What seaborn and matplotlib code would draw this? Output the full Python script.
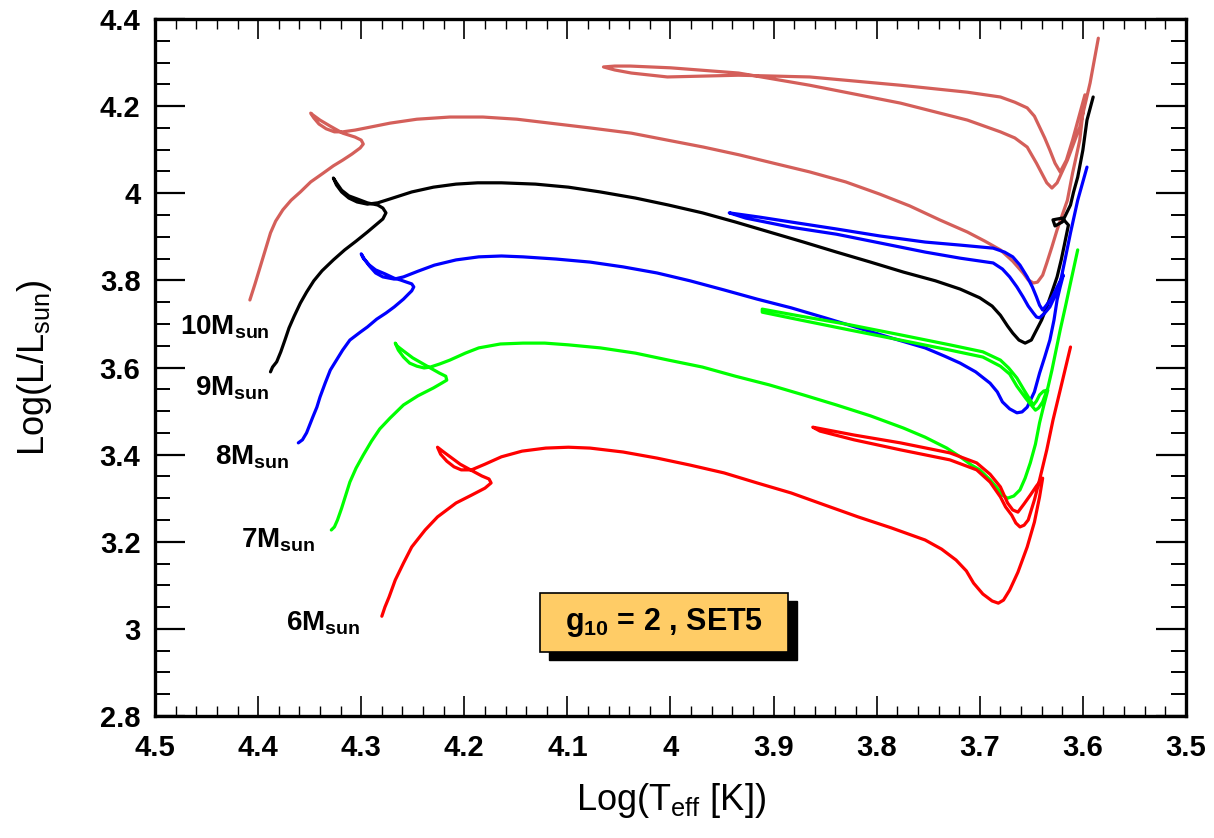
import numpy as np
import pandas as pd
import matplotlib
matplotlib.use("Agg")
import matplotlib.pyplot as plt
import seaborn as sns
from matplotlib.ticker import MultipleLocator, FuncFormatter
from matplotlib.patches import Rectangle

# ---------------- data ----------------
masses = ["10", "9", "8", "7", "6"]
track_colors = ["#d45f5a", "#000000", "#0000ff", "#00ff00", "#ff0000"]

logT_10 = [4.408, 4.403, 4.398, 4.393, 4.388, 4.383, 4.376, 4.368, 4.359, 4.349, 4.337, 4.327, 4.318, 4.309,
           4.301, 4.298, 4.300, 4.306, 4.318, 4.330, 4.340, 4.347, 4.349, 4.346, 4.341, 4.334, 4.326, 4.318,
           4.306, 4.291, 4.272, 4.246, 4.214, 4.182, 4.149, 4.117, 4.078, 4.038, 4.003, 3.968, 3.933, 3.900,
           3.865, 3.830, 3.797, 3.768, 3.739, 3.712, 3.695, 3.680, 3.668, 3.658, 3.653, 3.648, 3.644, 3.639,
           3.635, 3.630, 3.625, 3.620, 3.615, 3.610, 3.603, 3.598,
           3.610, 3.616, 3.622, 3.627, 3.632, 3.637, 3.642, 3.647, 3.654, 3.666, 3.680, 3.712, 3.777, 3.865,
           3.934, 3.968, 4.003, 4.038, 4.054, 4.065,
           4.054, 4.039, 4.000, 3.934, 3.865, 3.777, 3.712, 3.680, 3.666, 3.654, 3.645, 3.635, 3.630,
           3.625, 3.615, 3.603, 3.593, 3.585]
logL_10 = [3.755, 3.792, 3.831, 3.870, 3.909, 3.936, 3.962, 3.984, 4.003, 4.026, 4.046, 4.063, 4.076, 4.090,
           4.104, 4.113, 4.122, 4.129, 4.138, 4.154, 4.168, 4.180, 4.184, 4.173, 4.159, 4.148, 4.141, 4.141,
           4.145, 4.152, 4.161, 4.170, 4.175, 4.175, 4.170, 4.161, 4.150, 4.138, 4.122, 4.106, 4.088, 4.069,
           4.049, 4.026, 3.998, 3.971, 3.939, 3.911, 3.890, 3.870, 3.844, 3.817, 3.801, 3.794, 3.796, 3.812,
           3.840, 3.877, 3.916, 3.950, 3.984, 4.046, 4.122, 4.226,
           4.122, 4.076, 4.049, 4.069, 4.099, 4.127, 4.152, 4.177, 4.196, 4.209, 4.221, 4.232, 4.248, 4.267,
           4.271, 4.269, 4.267, 4.276, 4.283, 4.290,
           4.292, 4.292, 4.288, 4.276, 4.248, 4.207, 4.168, 4.141, 4.127, 4.106, 4.069, 4.024, 4.012,
           4.024, 4.076, 4.152, 4.253, 4.356]

logT_9 = [4.388, 4.386, 4.382, 4.378, 4.374, 4.370, 4.365, 4.359, 4.353, 4.346, 4.338, 4.327, 4.316, 4.305,
          4.294, 4.286, 4.279, 4.276, 4.279, 4.284, 4.294, 4.304, 4.312, 4.319, 4.324, 4.327, 4.324, 4.319,
          4.312, 4.304, 4.294, 4.284, 4.272, 4.251, 4.230, 4.208, 4.187, 4.164, 4.131, 4.099, 4.068, 4.034,
          4.002, 3.969, 3.937, 3.904, 3.871, 3.839, 3.806, 3.774, 3.743, 3.719, 3.700, 3.688, 3.680, 3.673,
          3.668, 3.662, 3.656, 3.650, 3.645, 3.640, 3.635, 3.630, 3.625, 3.621, 3.618, 3.614, 3.620, 3.629,
          3.627, 3.620, 3.612, 3.609, 3.605, 3.600, 3.596, 3.590]
logL_9 = [3.590, 3.601, 3.613, 3.636, 3.663, 3.691, 3.718, 3.748, 3.773, 3.799, 3.822, 3.847, 3.870, 3.890,
          3.911, 3.927, 3.941, 3.955, 3.966, 3.973, 3.978, 3.987, 3.994, 4.007, 4.024, 4.035, 4.019, 4.003,
          3.989, 3.980, 3.975, 3.978, 3.987, 4.003, 4.014, 4.021, 4.024, 4.024, 4.021, 4.014, 4.003, 3.989,
          3.973, 3.955, 3.934, 3.911, 3.888, 3.865, 3.842, 3.819, 3.799, 3.780, 3.760, 3.741, 3.720, 3.695,
          3.679, 3.663, 3.656, 3.663, 3.686, 3.709, 3.739, 3.773, 3.808, 3.847, 3.881, 3.927, 3.943, 3.939,
          3.925, 3.934, 3.973, 4.003, 4.037, 4.099, 4.168, 4.221]

logT_8 = [4.361, 4.357, 4.353, 4.350, 4.347, 4.343, 4.340, 4.335, 4.330, 4.324, 4.318, 4.311, 4.301, 4.294,
          4.285, 4.276, 4.268, 4.259, 4.254, 4.251, 4.249, 4.251, 4.256, 4.262, 4.268, 4.277, 4.286, 4.292,
          4.298, 4.300, 4.297, 4.292, 4.286, 4.279, 4.268, 4.259, 4.245, 4.229, 4.208, 4.186, 4.164, 4.143,
          4.111, 4.078, 4.046, 4.013, 3.981, 3.948, 3.916, 3.883, 3.850, 3.818, 3.786, 3.753, 3.734, 3.719,
          3.704, 3.690, 3.683, 3.678, 3.671, 3.664, 3.659, 3.654, 3.647, 3.642, 3.637, 3.632, 3.628, 3.625,
          3.622, 3.619, 3.624, 3.630, 3.636, 3.639,
          3.642, 3.645, 3.649, 3.654, 3.661, 3.668, 3.676, 3.687, 3.719, 3.753, 3.797, 3.839, 3.883, 3.913,
          3.943,
          3.927, 3.883, 3.839, 3.797, 3.753, 3.719, 3.687, 3.678, 3.671, 3.664, 3.658, 3.653, 3.648, 3.645,
          3.642, 3.637, 3.632, 3.627, 3.622, 3.617, 3.612, 3.605, 3.596]
logL_8 = [3.427, 3.434, 3.450, 3.468, 3.486, 3.509, 3.532, 3.564, 3.594, 3.617, 3.640, 3.663, 3.681, 3.693,
          3.711, 3.725, 3.739, 3.757, 3.769, 3.776, 3.785, 3.792, 3.796, 3.801, 3.805, 3.815, 3.824, 3.835,
          3.851, 3.861, 3.849, 3.833, 3.817, 3.808, 3.803, 3.808, 3.821, 3.835, 3.847, 3.854, 3.856, 3.854,
          3.849, 3.842, 3.831, 3.817, 3.799, 3.778, 3.757, 3.737, 3.714, 3.691, 3.668, 3.645, 3.626, 3.610,
          3.590, 3.564, 3.544, 3.521, 3.505, 3.496, 3.498, 3.509, 3.544, 3.587, 3.624, 3.663, 3.709, 3.755,
          3.785, 3.812, 3.789, 3.760, 3.741, 3.732,
          3.743, 3.762, 3.785, 3.808, 3.835, 3.854, 3.865, 3.874, 3.881, 3.888, 3.902, 3.918, 3.934, 3.945,
          3.955,
          3.943, 3.922, 3.906, 3.886, 3.865, 3.851, 3.840, 3.826, 3.808, 3.785, 3.762, 3.741, 3.725, 3.716,
          3.714, 3.725, 3.739, 3.764, 3.794, 3.851, 3.909, 3.984, 4.060]

logT_7 = [4.329, 4.326, 4.323, 4.319, 4.315, 4.311, 4.305, 4.298, 4.290, 4.282, 4.272, 4.259, 4.245, 4.230,
          4.222, 4.217, 4.218, 4.224, 4.236, 4.250, 4.259, 4.265, 4.267, 4.264, 4.259, 4.253, 4.246, 4.239,
          4.233, 4.224, 4.214, 4.199, 4.186, 4.165, 4.143, 4.122, 4.099, 4.068, 4.034, 4.002, 3.969, 3.937,
          3.904, 3.871, 3.839, 3.806, 3.774, 3.753, 3.732, 3.719, 3.708, 3.700, 3.690, 3.683, 3.678, 3.673,
          3.667, 3.661, 3.656, 3.651, 3.646, 3.642, 3.638, 3.634, 3.638, 3.642, 3.645, 3.648,
          3.651, 3.657, 3.664, 3.672, 3.680, 3.697, 3.729, 3.777, 3.826, 3.874, 3.911,
          3.911, 3.874, 3.826, 3.777, 3.729, 3.697, 3.680, 3.671, 3.664, 3.655, 3.646, 3.643, 3.639, 3.634,
          3.630, 3.626, 3.622, 3.617, 3.612, 3.605]
logL_7 = [3.227, 3.234, 3.250, 3.277, 3.307, 3.337, 3.369, 3.399, 3.431, 3.459, 3.484, 3.514, 3.535, 3.553,
          3.564, 3.571, 3.580, 3.587, 3.603, 3.622, 3.638, 3.649, 3.656, 3.640, 3.624, 3.610, 3.603, 3.599,
          3.601, 3.608, 3.617, 3.633, 3.645, 3.654, 3.656, 3.656, 3.652, 3.645, 3.633, 3.617, 3.601, 3.580,
          3.560, 3.537, 3.514, 3.489, 3.461, 3.440, 3.415, 3.395, 3.376, 3.365, 3.342, 3.323, 3.307, 3.300,
          3.305, 3.319, 3.346, 3.381, 3.424, 3.473, 3.512, 3.548, 3.546, 3.537, 3.523, 3.514,
          3.525, 3.548, 3.576, 3.599, 3.617, 3.636, 3.652, 3.675, 3.698, 3.718, 3.734,
          3.727, 3.709, 3.686, 3.663, 3.640, 3.624, 3.603, 3.585, 3.557, 3.528, 3.502, 3.507, 3.521, 3.553,
          3.594, 3.640, 3.686, 3.739, 3.794, 3.870]

logT_6 = [4.280, 4.277, 4.273, 4.267, 4.259, 4.251, 4.238, 4.226, 4.208, 4.193, 4.180, 4.174, 4.176, 4.183,
          4.194, 4.204, 4.212, 4.220, 4.226, 4.223, 4.217, 4.210, 4.203, 4.193, 4.180, 4.164, 4.144, 4.121,
          4.099, 4.078, 4.046, 4.013, 3.981, 3.948, 3.916, 3.883, 3.850, 3.818, 3.786, 3.753, 3.737, 3.723,
          3.713, 3.706, 3.697, 3.688, 3.682, 3.677, 3.671, 3.663, 3.654, 3.647, 3.642, 3.639,
          3.645, 3.651, 3.657, 3.663,
          3.668, 3.673, 3.680, 3.690, 3.703, 3.729, 3.777, 3.822, 3.862,
          3.855, 3.822, 3.777, 3.729, 3.703, 3.690, 3.680, 3.675, 3.669, 3.665, 3.661, 3.657, 3.653, 3.647,
          3.642, 3.635, 3.629, 3.622, 3.612]
logL_6 = [3.029, 3.050, 3.073, 3.112, 3.151, 3.188, 3.227, 3.257, 3.289, 3.307, 3.323, 3.335, 3.344, 3.351,
          3.365, 3.378, 3.392, 3.406, 3.417, 3.401, 3.385, 3.372, 3.365, 3.365, 3.378, 3.395, 3.408, 3.415,
          3.417, 3.415, 3.406, 3.392, 3.376, 3.358, 3.335, 3.312, 3.284, 3.257, 3.232, 3.204, 3.183, 3.158,
          3.133, 3.105, 3.080, 3.064, 3.059, 3.066, 3.089, 3.130, 3.188, 3.245, 3.303, 3.346,
          3.328, 3.307, 3.287, 3.268,
          3.273, 3.289, 3.326, 3.355, 3.381, 3.404, 3.427, 3.445, 3.463,
          3.454, 3.434, 3.411, 3.388, 3.365, 3.337, 3.303, 3.280, 3.261, 3.243, 3.234, 3.238, 3.250, 3.296,
          3.342, 3.411, 3.479, 3.548, 3.647]

label_T = [4.432, 4.425, 4.406, 4.381, 4.337]
label_L = [3.693, 3.553, 3.394, 3.204, 3.013]
box_text = r"g$_{\mathbf{10}}$ = 2 , SET5"

# ---------------- style ----------------
sns.set_style("white")
plt.rcParams["font.family"] = ["Liberation Sans", "DejaVu Sans"]
plt.rcParams["mathtext.fontset"] = "custom"
plt.rcParams["mathtext.rm"] = "Liberation Sans"
plt.rcParams["mathtext.bf"] = "Liberation Sans:bold"
plt.rcParams["mathtext.it"] = "Liberation Sans:italic"
plt.rcParams["text.color"] = "black"
plt.rcParams["axes.labelcolor"] = "black"
plt.rcParams["xtick.color"] = "black"
plt.rcParams["ytick.color"] = "black"

fig = plt.figure(figsize=(12.14, 8.38), dpi=100)
ax = fig.add_axes([0.1277, 0.1456, 0.8492, 0.8317])

tracks = {"10": (logT_10, logL_10), "9": (logT_9, logL_9), "8": (logT_8, logL_8),
          "7": (logT_7, logL_7), "6": (logT_6, logL_6)}

for m, c in zip(masses, track_colors):
    T, L = tracks[m]
    df = pd.DataFrame({"logT": T, "logL": L, "step": np.arange(len(T))})
    sns.lineplot(data=df, x="logT", y="logL", sort=False, estimator=None, color=c,
                 lw=2.3, ax=ax, solid_joinstyle="round", solid_capstyle="round")

for m, tx, ty in zip(masses, label_T, label_L):
    ax.text(tx, ty, r"$\mathbf{%sM}_{\mathbf{sun}}$" % m, ha="center", va="center",
            fontsize=20, color="black")

# info box with shadow (axes-fraction layout)
ax.add_patch(Rectangle((0.3821, 0.0803), 0.2405, 0.0847, transform=ax.transAxes,
                       facecolor="black", edgecolor="black", zorder=5))
ax.add_patch(Rectangle((0.3734, 0.0918), 0.2405, 0.0847, transform=ax.transAxes,
                       facecolor="#ffcc66", edgecolor="black", lw=1.2, zorder=6))
ax.text(0.4937, 0.134, box_text, transform=ax.transAxes, ha="center", va="center",
        fontsize=22, fontweight="bold", color="black", zorder=7)

# axes
ax.set_xlim(4.5, 3.5)
ax.set_ylim(2.8, 4.4)
ax.xaxis.set_major_locator(MultipleLocator(0.1))
ax.xaxis.set_minor_locator(MultipleLocator(0.02))
ax.yaxis.set_major_locator(MultipleLocator(0.2))
ax.yaxis.set_minor_locator(MultipleLocator(0.05))
fmt = FuncFormatter(lambda v, p: "%g" % round(v, 2))
ax.xaxis.set_major_formatter(fmt)
ax.yaxis.set_major_formatter(fmt)

ax.tick_params(axis="both", which="both", direction="in", bottom=True, left=True,
               top=True, right=True, colors="black")
ax.tick_params(axis="x", which="major", length=14.4, width=1.2, pad=13)
ax.tick_params(axis="x", which="minor", length=7.2, width=1.0)
ax.tick_params(axis="y", which="major", length=21.6, width=1.6, pad=10.5)
ax.tick_params(axis="y", which="minor", length=10.8, width=1.4)
for lab in ax.get_xticklabels() + ax.get_yticklabels():
    lab.set_fontweight("bold")
    lab.set_fontsize(21)

for s in ax.spines.values():
    s.set_linewidth(2.4)
    s.set_color("black")
    s.set_visible(True)

ax.set_xlabel(r"Log(T$_{\rm eff}$ [K])", fontsize=26)
ax.set_ylabel(r"Log(L/L$_{\rm sun}$)", fontsize=26)
ax.xaxis.set_label_coords(0.5, -0.093)
ax.yaxis.set_label_coords(-0.098, 0.5)

fig.savefig("out.png", dpi=100)
